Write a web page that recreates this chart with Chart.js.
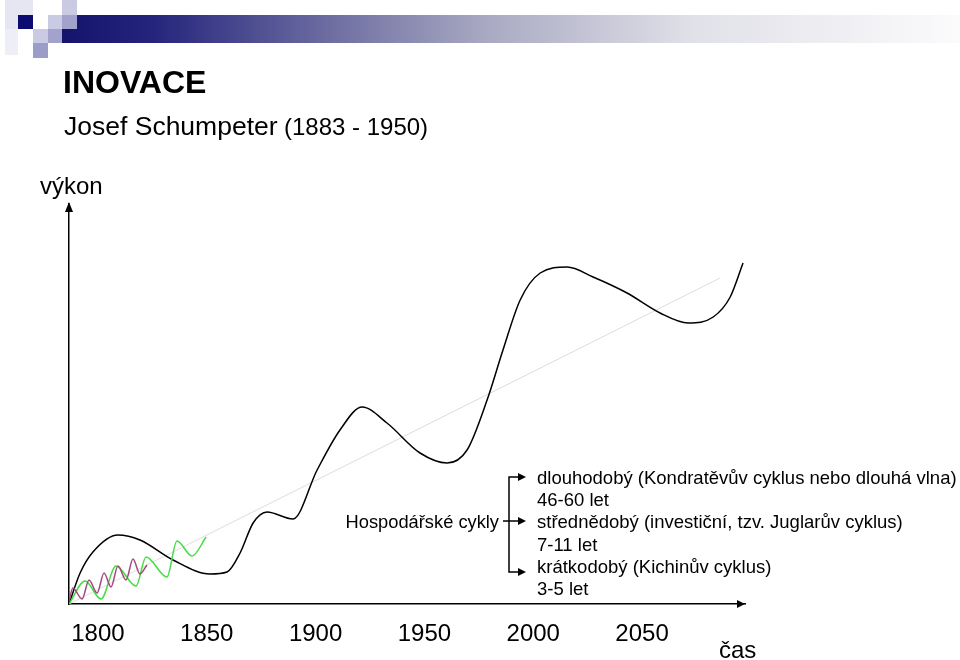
<!DOCTYPE html>
<html>
<head>
<meta charset="utf-8">
<title>INOVACE – hospodářské cykly</title>
<script src="https://cdn.jsdelivr.net/npm/chart.js@4.4.0/dist/chart.umd.min.js"></script>
<style>
  html, body { margin: 0; padding: 0; background: #fff; }
  #wrap { width: 960px; height: 660px; }
</style>
</head>
<body>
<div id="wrap"><canvas id="cyclesChart" width="960" height="660"></canvas></div>
<script>
// Tick labels on the time axis
const tickYears = [1800, 1850, 1900, 1950, 2000, 2050];

// Long wave (Kondratěv)
const longWaveYears = [1786.7, 1791.8, 1797.7, 1809.2, 1819.3, 1834.5, 1851.5, 1859.3, 1865.3, 1871.3,
  1877.7, 1889.6, 1900.7, 1911.2, 1921.4, 1932.8, 1948.0, 1960.4, 1969.6, 1978.8,
  1986.1, 1994.0, 2003.2, 2015.6, 2027.5, 2043.1, 2058.3, 2071.2, 2082.7, 2090.5, 2096.4];
const longWaveValues = [0, 7.75, 13, 17.25, 16, 11, 7.5, 8, 12.75, 20.25,
  23, 21.25, 33.5, 43.5, 49.25, 45.25, 37.75, 35.25, 38.5, 51,
  63.5, 76, 82.75, 84.25, 81.75, 77.75, 72.75, 70.25, 71.75, 76.75, 85.25];

// Medium cycle (Juglar)
const juglarYears = [1786.7, 1794.1, 1801.4, 1808.3, 1817.5, 1822.1, 1831.7, 1836.3, 1843.2, 1849.7];
const juglarValues = [0, 5.75, 1.25, 9.5, 4.5, 11.75, 6.75, 15.75, 12.0, 16.75];

// Short cycle (Kitchin)
const kitchinYears = [1786.7, 1788.5, 1792.7, 1795.9, 1799.6, 1802.8, 1806.0, 1809.2, 1812.9, 1816.1, 1819.3, 1822.5];
const kitchinValues = [0.75, 4.0, 1.25, 6.0, 2.75, 7.75, 4.25, 9.5, 6.0, 11.25, 7.5, 9.75];

// Trend
const trendYears = [1786.7, 2085.9];
const trendValues = [0, 81.5];

const toPoints = (xs, ys) => xs.map((x, i) => ({ x: x, y: ys[i] }));

const FONT = '"Liberation Sans", Arial, sans-serif';

const rightLines = [
  'dlouhodobý (Kondratěvův cyklus nebo dlouhá vlna)',
  '46-60 let',
  'střednědobý (investiční, tzv. Juglarův cyklus)',
  '7-11 let',
  'krátkodobý (Kichinův cyklus)',
  '3-5 let'
];

function arrowRight(c, x, y) {
  c.beginPath();
  c.moveTo(x, y);
  c.lineTo(x - 8, y - 4);
  c.lineTo(x - 8, y + 4);
  c.closePath();
  c.fill();
}

const slidePlugin = {
  id: 'slide',
  beforeDraw(chart) {
    const c = chart.ctx;
    c.save();
    c.fillStyle = '#fff';
    c.fillRect(0, 0, chart.width, chart.height);

    // header bar
    const g = c.createLinearGradient(62, 0, 960, 0);
    g.addColorStop(0, '#14146c');
    g.addColorStop(0.1, '#24247c');
    g.addColorStop(0.3, '#6e6ea2');
    g.addColorStop(0.47, '#a8a8c2');
    g.addColorStop(0.7, '#e0e0e8');
    g.addColorStop(1, '#fbfbfc');
    c.fillStyle = g;
    c.fillRect(62, 15, 898, 28);

    // little squares
    c.fillStyle = '#e6e6f3';
    c.fillRect(5, 0, 28, 29);
    c.fillStyle = '#eeeef7';
    c.fillRect(5, 29, 13, 26);
    c.fillStyle = '#0c0c70';
    c.fillRect(18, 15, 15, 14);
    c.fillStyle = '#cacae2';
    c.fillRect(48, 15, 14, 14);
    c.fillRect(62, 0, 15, 15);
    c.fillRect(33, 29, 15, 14);
    c.fillStyle = '#a2a2cc';
    c.fillRect(62, 15, 15, 14);
    c.fillRect(48, 29, 14, 14);
    c.fillStyle = '#9c9cc8';
    c.fillRect(33, 43, 15, 15);
    c.restore();
  },
  afterDraw(chart) {
    const c = chart.ctx;
    const area = chart.chartArea;
    c.save();
    c.fillStyle = '#000';
    c.strokeStyle = '#000';

    // axis arrow heads
    c.beginPath();
    c.moveTo(area.left, area.top - 2);
    c.lineTo(area.left - 4, area.top + 8);
    c.lineTo(area.left + 4, area.top + 8);
    c.closePath();
    c.fill();
    arrowRight(c, area.right, area.bottom);

    // titles
    c.textBaseline = 'alphabetic';
    c.textAlign = 'left';
    c.font = 'bold 32px ' + FONT;
    c.fillText('INOVACE', 63, 93);
    c.font = '26.5px ' + FONT;
    c.fillText('Josef Schumpeter', 64, 135);
    c.font = '24px ' + FONT;
    c.fillText('(1883 - 1950)', 284, 135);
    c.fillText('výkon', 40, 194);
    c.fillText('čas', 719, 658);

    // bracket with arrows
    c.lineWidth = 1.5;
    c.beginPath();
    c.moveTo(518, 477); c.lineTo(509, 477); c.lineTo(509, 572); c.lineTo(518, 572);
    c.moveTo(503, 521); c.lineTo(518, 521);
    c.stroke();
    arrowRight(c, 526, 477);
    arrowRight(c, 526, 521);
    arrowRight(c, 526, 572);

    c.font = '18.3px ' + FONT;
    c.textAlign = 'right';
    c.fillText('Hospodářské cykly', 499, 528);
    c.textAlign = 'left';
    c.font = '18.5px ' + FONT;
    const baselines = [484, 506, 528, 551, 573, 595];
    rightLines.forEach((t, i) => c.fillText(t, 537, baselines[i]));
    c.restore();
  }
};

const ctx = document.getElementById('cyclesChart').getContext('2d');
const cyclesChart = new Chart(ctx, {
  type: 'line',
  data: {
    datasets: [{
      label: 'krátkodobý',
      data: toPoints(kitchinYears, kitchinValues),
      borderColor: '#a24a7c',
      borderWidth: 1.5,
      cubicInterpolationMode: 'monotone',
      order: 0
    }, {
      label: 'střednědobý',
      data: toPoints(juglarYears, juglarValues),
      borderColor: '#44dd44',
      borderWidth: 1.5,
      cubicInterpolationMode: 'monotone',
      order: 1
    }, {
      label: 'dlouhodobý',
      data: toPoints(longWaveYears, longWaveValues),
      borderColor: '#000000',
      borderWidth: 1.5,
      cubicInterpolationMode: 'monotone',
      order: 2
    }, {
      label: 'trend',
      data: toPoints(trendYears, trendValues),
      borderColor: '#dddddd',
      borderWidth: 1,
      order: 3
    }]
  },
  options: {
    responsive: false,
    animation: false,
    layout: { padding: { top: 204, right: 215, left: 0, bottom: 0 } },
    elements: { point: { radius: 0 } },
    plugins: {
      legend: { display: false },
      tooltip: { enabled: false }
    },
    scales: {
      x: {
        type: 'linear',
        min: 1786.7,
        max: 2097.3,
        grid: { display: false },
        border: { display: true, color: '#000', width: 1.5 },
        afterFit: (scale) => { scale.height = 56; },
        afterBuildTicks: (scale) => { scale.ticks = tickYears.map(v => ({ value: v })); },
        ticks: {
          padding: 8,
          color: '#000',
          font: { family: FONT, size: 24 },
          maxRotation: 0,
          autoSkip: false,
          callback: (v) => String(v)
        }
      },
      y: {
        type: 'linear',
        min: 0,
        max: 100,
        grid: { display: false },
        border: { display: true, color: '#000', width: 1.5 },
        afterFit: (scale) => { scale.width = 69; },
        ticks: { display: false }
      }
    }
  },
  plugins: [slidePlugin]
});
</script>
</body>
</html>
